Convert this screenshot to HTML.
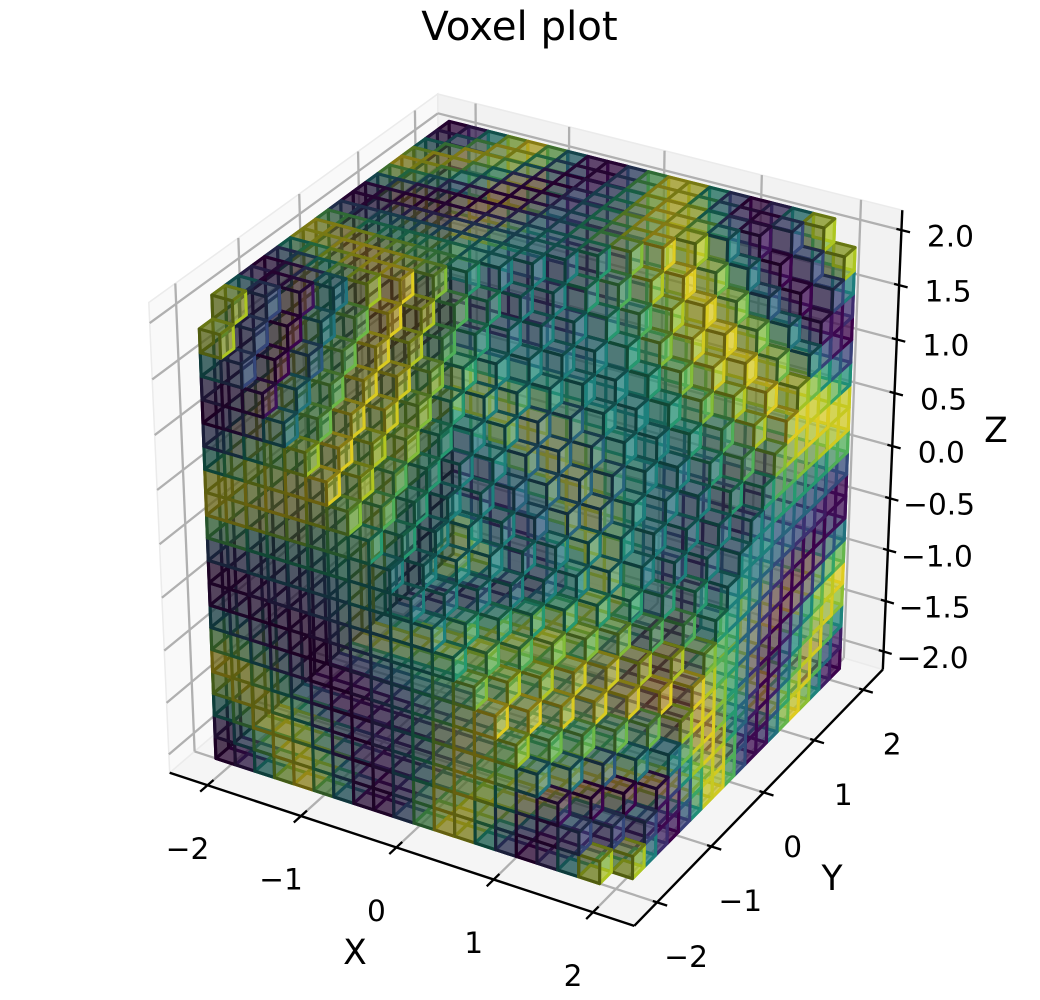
<!DOCTYPE html>
<html>
<head>
<meta charset="utf-8">
<title>Voxel plot</title>
<style>
html,body{margin:0;padding:0;background:#fff;}
svg{display:block;}
text{font-family:"DejaVu Sans","Liberation Sans",sans-serif;fill:#000;}
</style>
</head>
<body>
<svg id="chart" xmlns="http://www.w3.org/2000/svg" width="1040" height="1000" viewBox="0 0 1040 1000">
  <text x="519.5" y="40" font-size="40.3" text-anchor="middle">Voxel plot</text>
  <g id="panes"></g>
  <g id="grid"></g>
  <g id="axes"></g>
  <g id="voxels"></g>
  <g id="labels"></g>
  <text x="355" y="964" font-size="34.5" text-anchor="middle">X</text>
  <text x="832" y="890" font-size="34.5" text-anchor="middle">Y</text>
  <text x="996" y="442" font-size="34.5" text-anchor="middle">Z</text>
</svg>
<script>
// Tick labels
const xTicks = [-2, -1, 0, 1, 2];
const yTicks = [-2, -1, 0, 1, 2];
const zTicks = [-2, -1.5, -1, -0.5, 0, 0.5, 1, 1.5, 2];

// Voxel cell centres along each axis (20 cells were counted on each edge)
const cellCenters = [-2, -1.789, -1.579, -1.368, -1.158, -0.947, -0.737, -0.526, -0.316, -0.105,
                     0.105, 0.316, 0.526, 0.737, 0.947, 1.158, 1.368, 1.579, 1.789, 2];

// Lookup key: |x*y*z| in steps of 0.25; the sign of the product flips the level.
const levelByProduct = [0, 0.25, 0.48, 0.68, 0.84, 0.95, 1, 0.98, 0.91, 0.78, 0.6, 0.38, 0.14,
  -0.11, -0.35, -0.57, -0.76, -0.89, -0.98, -1, -0.96, -0.86, -0.71, -0.51, -0.28, -0.03,
  0.22, 0.45, 0.66, 0.82, 0.94, 0.99, 0.99, 0.92, 0.8, 0.62, 0.41, 0.17, -0.08];

// Largest value of (i - j + k) still filled: the cube is cut by a diagonal plane
const cutLimit = 18;

// Viridis colour stops
const viridisStops = [[68,1,84],[72,36,117],[65,68,135],[53,95,141],[42,120,142],[33,145,140],
                      [34,168,132],[68,191,112],[122,209,81],[189,223,38],[253,231,37]];

// Face brightness from the reference's light direction
const shadeXPlus = 0.883, shadeXMinus = 0.417, shadeYPlus = 0.883, shadeYMinus = 0.417, shadeZPlus = 0.533, shadeZMinus = 0.767;
const faceAlpha = 0.5;

// Axis limits and camera
const xLim = 2.41, yLim = 2.41, zLim = 2.18;
const boxHalf = 0.55, camDist = 10, screenScale = 4875, screenCx = 532.3, screenCy = 494.3;
const elev = 30 * Math.PI / 180, azim = -60 * Math.PI / 180;
const nv = [Math.cos(elev) * Math.cos(azim), Math.cos(elev) * Math.sin(azim), Math.sin(elev)];
const uv = [-Math.sin(azim), Math.cos(azim), 0];
const vv = [-Math.sin(elev) * Math.cos(azim), -Math.sin(elev) * Math.sin(azim), Math.cos(elev)];

function project(x, y, z) {
  const q = [x / xLim * boxHalf, y / yLim * boxHalf, z / zLim * boxHalf];
  const dot = (a) => a[0] * q[0] + a[1] * q[1] + a[2] * q[2];
  const depth = camDist - dot(nv);
  return [screenCx + screenScale * dot(uv) / depth, screenCy - screenScale * dot(vv) / depth, depth];
}

const SVGNS = 'http://www.w3.org/2000/svg';
function pts(list) {
  return list.map(p => p[0].toFixed(2) + ',' + p[1].toFixed(2)).join(' ');
}
function addLine(parent, a, b, color, width) {
  const el = document.createElementNS(SVGNS, 'line');
  el.setAttribute('x1', a[0].toFixed(2));
  el.setAttribute('y1', a[1].toFixed(2));
  el.setAttribute('x2', b[0].toFixed(2));
  el.setAttribute('y2', b[1].toFixed(2));
  el.setAttribute('stroke', color);
  el.setAttribute('stroke-width', width);
  parent.appendChild(el);
  return el;
}
function addLabel(parent, x, y, value) {
  const el = document.createElementNS(SVGNS, 'text');
  el.setAttribute('x', x.toFixed(1));
  el.setAttribute('y', (y + 10.7).toFixed(1));
  el.setAttribute('font-size', '29.6');
  el.setAttribute('text-anchor', 'middle');
  el.textContent = value;
  parent.appendChild(el);
  return el;
}
function fmt(v, digits) {
  const s = Math.abs(v).toFixed(digits);
  return (v < 0 ? '\u2212' : '') + s;
}

// Panes
const paneGroup = document.getElementById('panes');
function addPane(corners, fill, name) {
  const el = document.createElementNS(SVGNS, 'polygon');
  el.setAttribute('points', pts(corners.map(c => project(c[0], c[1], c[2]))));
  el.setAttribute('fill', fill);
  el.setAttribute('stroke', '#ebebeb');
  el.setAttribute('stroke-width', '1.5');
  
  
  paneGroup.appendChild(el);
}
addPane([[-xLim,-yLim,-zLim],[-xLim,yLim,-zLim],[-xLim,yLim,zLim],[-xLim,-yLim,zLim]], '#f9f9f9', 'left-wall-pane');
addPane([[-xLim,yLim,-zLim],[xLim,yLim,-zLim],[xLim,yLim,zLim],[-xLim,yLim,zLim]], '#f2f2f2', 'back-wall-pane');
addPane([[-xLim,-yLim,-zLim],[xLim,-yLim,-zLim],[xLim,yLim,-zLim],[-xLim,yLim,-zLim]], '#f5f5f5', 'floor-pane');

// Grid
const gridGroup = document.getElementById('grid');
const gridColor = '#b0b0b0', gridWidth = 2.3;
xTicks.forEach(function (t) {
  const a = project(t, -yLim, -zLim), b = project(t, yLim, -zLim), c = project(t, yLim, zLim);
  let el = addLine(gridGroup, a, b, gridColor, gridWidth);
  
  
  el = addLine(gridGroup, b, c, gridColor, gridWidth);
  
  
});
yTicks.forEach(function (t) {
  const a = project(xLim, t, -zLim), b = project(-xLim, t, -zLim), c = project(-xLim, t, zLim);
  let el = addLine(gridGroup, a, b, gridColor, gridWidth);
  
  
  el = addLine(gridGroup, b, c, gridColor, gridWidth);
  
  
});
zTicks.forEach(function (t) {
  const a = project(-xLim, -yLim, t), b = project(-xLim, yLim, t), c = project(xLim, yLim, t);
  let el = addLine(gridGroup, a, b, gridColor, gridWidth);
  
  
  el = addLine(gridGroup, b, c, gridColor, gridWidth);
  
  
});

// Axis lines and ticks
const axesGroup = document.getElementById('axes');
const labelGroup = document.getElementById('labels');
let spine = addLine(axesGroup, project(-xLim, -yLim, -zLim), project(xLim, -yLim, -zLim), '#000', 2.4);


spine = addLine(axesGroup, project(xLim, -yLim, -zLim), project(xLim, yLim, -zLim), '#000', 2.4);


spine = addLine(axesGroup, project(xLim, yLim, -zLim), project(xLim, yLim, zLim), '#000', 2.4);



xTicks.forEach(function (t) {
  const el = addLine(axesGroup, project(t, -yLim + 0.1, -zLim), project(t, -yLim - 0.12, -zLim), '#000', 2.3);
  
  
  const p = project(t, -yLim, -zLim);
  const lab = addLabel(labelGroup, p[0] - 20, p[1] + 63, fmt(t, 0));
  
  
});
yTicks.forEach(function (t) {
  const el = addLine(axesGroup, project(xLim - 0.042, t, -zLim), project(xLim + 0.1, t, -zLim), '#000', 2.3);
  
  
  const p = project(xLim, t, -zLim);
  const lab = addLabel(labelGroup, p[0] + 29, p[1] + 54, fmt(t, 0));
  
  
});
zTicks.forEach(function (t) {
  const el = addLine(axesGroup, project(xLim - 0.05, yLim, t), project(xLim + 0.085, yLim, t), '#000', 2.3);
  
  
  const p = project(xLim, yLim, t);
  const lab = addLabel(labelGroup, p[0] + 49, p[1] + 5.5, fmt(t, 1));
  
  
});

// Voxels
function levelAt(x, y, z) {
  const product = x * y * z;
  const idx = Math.min(levelByProduct.length - 1, Math.round(Math.abs(product) / 0.25));
  return (product < 0 ? -1 : 1) * levelByProduct[idx];
}
function viridis(level) {
  const t = Math.max(0, Math.min(1, (level + 1) / 2)) * (viridisStops.length - 1);
  const i = Math.min(viridisStops.length - 2, Math.floor(t));
  const f = t - i;
  return [0, 1, 2].map(c => viridisStops[i][c] + (viridisStops[i + 1][c] - viridisStops[i][c]) * f);
}
function rgb(c, s) {
  return 'rgb(' + c.map(v => Math.round(v * s)).join(',') + ')';
}
const n = cellCenters.length;
const halfCell = (cellCenters[n - 1] - cellCenters[0]) / (n - 1) / 2;
function isFilled(i, j, k) {
  if (i < 0 || j < 0 || k < 0 || i >= n || j >= n || k >= n) return false;
  return i - j + k <= cutLimit;
}
const faceDefs = [
  { d: [1, 0, 0], shade: shadeXPlus, c: [[1,0,0],[1,1,0],[1,1,1],[1,0,1]] },
  { d: [-1, 0, 0], shade: shadeXMinus, c: [[0,0,0],[0,1,0],[0,1,1],[0,0,1]] },
  { d: [0, 1, 0], shade: shadeYPlus, c: [[0,1,0],[1,1,0],[1,1,1],[0,1,1]] },
  { d: [0, -1, 0], shade: shadeYMinus, c: [[0,0,0],[1,0,0],[1,0,1],[0,0,1]] },
  { d: [0, 0, 1], shade: shadeZPlus, c: [[0,0,1],[1,0,1],[1,1,1],[0,1,1]] },
  { d: [0, 0, -1], shade: shadeZMinus, c: [[0,0,0],[1,0,0],[1,1,0],[0,1,0]] }
];
const cells = [];
for (let i = 0; i < n; i++) {
  for (let j = 0; j < n; j++) {
    for (let k = 0; k < n; k++) {
      if (!isFilled(i, j, k)) continue;
      const faces = [];
      let nearest = Infinity;
      faceDefs.forEach(function (fd) {
        if (isFilled(i + fd.d[0], j + fd.d[1], k + fd.d[2])) return;
        const verts = fd.c.map(c => project(
          cellCenters[i] + (c[0] ? halfCell : -halfCell),
          cellCenters[j] + (c[1] ? halfCell : -halfCell),
          cellCenters[k] + (c[2] ? halfCell : -halfCell)));
        let sum = 0;
        verts.forEach(function (v) { sum += v[2]; nearest = Math.min(nearest, v[2]); });
        faces.push({ verts: verts, depth: sum / 4, shade: fd.shade });
      });
      if (faces.length) {
        faces.sort((a, b) => b.depth - a.depth);
        cells.push({ faces: faces, nearest: nearest, color: viridis(levelAt(cellCenters[i], cellCenters[j], cellCenters[k])) });
      }
    }
  }
}
cells.sort((a, b) => b.nearest - a.nearest);
const voxelGroup = document.getElementById('voxels');
cells.forEach(function (cell) {
  cell.faces.forEach(function (f) {
    const el = document.createElementNS(SVGNS, 'polygon');
    el.setAttribute('points', pts(f.verts));
    el.setAttribute('fill', rgb(cell.color, f.shade));
    el.setAttribute('fill-opacity', faceAlpha);
    el.setAttribute('stroke', rgb(cell.color, f.shade));
    el.setAttribute('stroke-width', '3.1');
    el.setAttribute('stroke-linejoin', 'round');
    
    
    voxelGroup.appendChild(el);
  });
});
</script>
</body>
</html>
